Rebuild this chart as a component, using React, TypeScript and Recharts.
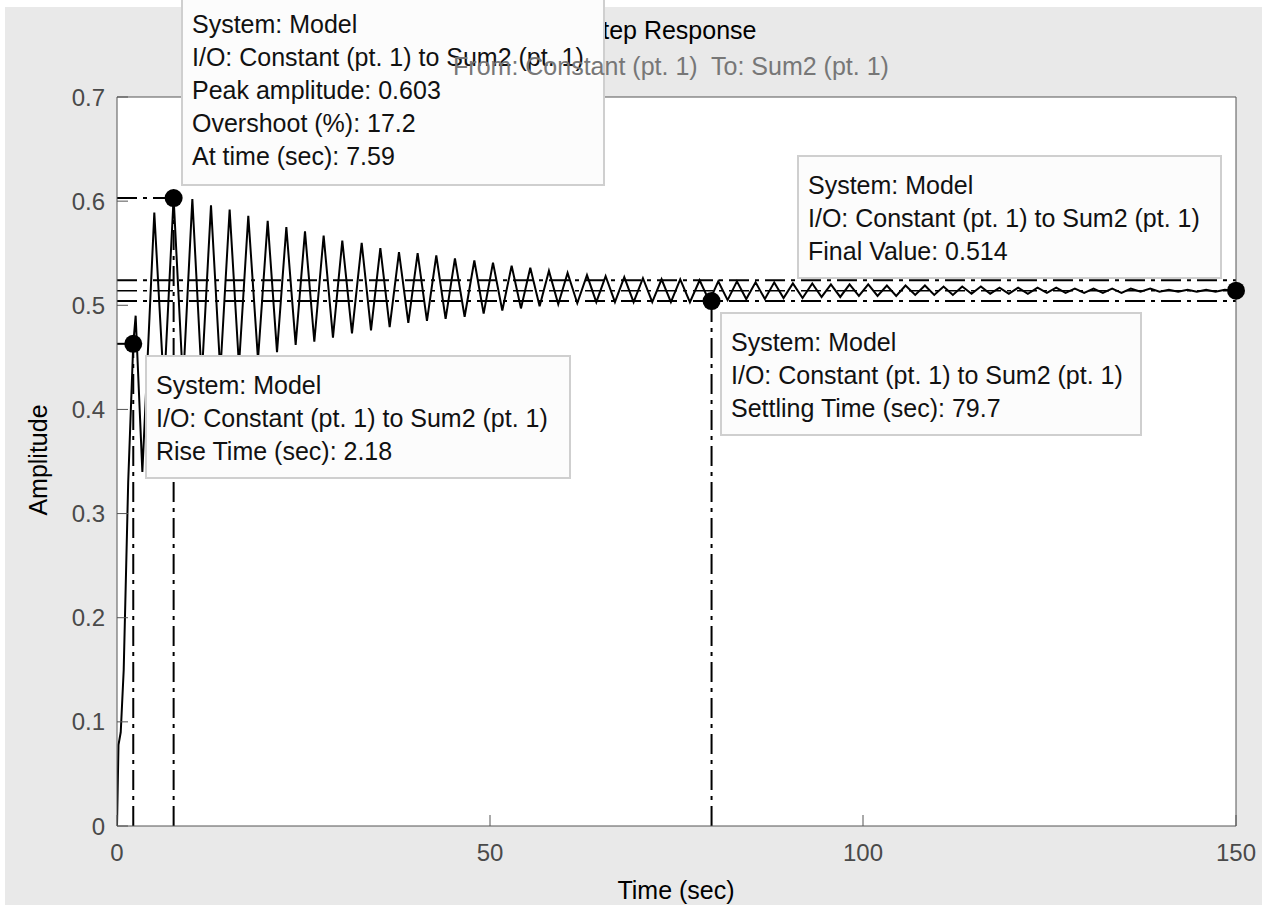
import { LineChart, Line, XAxis, YAxis, CartesianGrid, ReferenceLine, ReferenceDot } from "recharts"

// step response: start of the rise, then peaks and troughs
const startTimes = [0, 0.2, 0.5, 0.9, 1.5, 2.18, 2.5, 3.4]
const startValues = [0, 0.078, 0.09, 0.15, 0.33, 0.463, 0.49, 0.34]

const peakTimes = [
  5.0, 7.59, 10.1, 12.6, 15.1, 17.6, 20.2, 22.7, 25.2, 27.7, 30.2, 32.8, 35.3, 37.8, 40.3, 42.8, 45.3, 47.9, 50.4,
  52.9, 55.4, 57.9, 60.4, 63.0, 65.5, 68.0, 70.5, 73.0, 75.5, 78.1, 80.6, 83.1, 85.6, 88.1, 90.6, 93.2, 95.7, 98.2,
  100.7, 103.2, 105.7, 108.3, 110.8, 113.3, 115.8, 118.3, 120.8, 123.4, 125.9, 128.4, 130.9, 133.4, 135.9, 138.5,
  141.0, 143.5, 146.0, 148.5,
]
const peakValues = [
  0.589, 0.603, 0.602, 0.596, 0.592, 0.586, 0.581, 0.575, 0.571, 0.567, 0.562, 0.56, 0.555, 0.551, 0.55, 0.548,
  0.545, 0.543, 0.541, 0.538, 0.536, 0.533, 0.531, 0.529, 0.528, 0.527, 0.526, 0.525, 0.525, 0.524, 0.523, 0.523,
  0.522, 0.522, 0.521, 0.521, 0.52, 0.52, 0.52, 0.519, 0.519, 0.519, 0.518, 0.518, 0.518, 0.517, 0.517, 0.517,
  0.517, 0.516, 0.516, 0.516, 0.516, 0.516, 0.515, 0.515, 0.515, 0.515,
]
const troughTimes = [
  6.3, 8.85, 11.35, 13.85, 16.35, 18.9, 21.45, 23.95, 26.45, 28.95, 31.5, 34.05, 36.55, 39.05, 41.55, 44.05, 46.6,
  49.15, 51.65, 54.15, 56.65, 59.15, 61.7, 64.25, 66.75, 69.25, 71.75, 74.25, 76.8, 79.4, 81.85, 84.35, 86.85,
  89.35, 91.9, 94.45, 96.95, 99.45, 101.95, 104.45, 107.0, 109.55, 112.05, 114.55, 117.05, 119.55, 122.1, 124.65,
  127.15, 129.65, 132.15, 134.65, 137.2, 139.75, 142.25, 144.75, 147.25,
]
const troughValues = [
  0.42, 0.425, 0.43, 0.436, 0.442, 0.448, 0.455, 0.462, 0.465, 0.469, 0.473, 0.476, 0.479, 0.483, 0.485, 0.487,
  0.489, 0.492, 0.495, 0.497, 0.499, 0.501, 0.502, 0.503, 0.503, 0.503, 0.503, 0.503, 0.503, 0.504, 0.505, 0.506,
  0.506, 0.507, 0.507, 0.508, 0.508, 0.509, 0.509, 0.509, 0.51, 0.51, 0.51, 0.511, 0.511, 0.511, 0.511, 0.512,
  0.512, 0.512, 0.512, 0.512, 0.513, 0.513, 0.513, 0.513, 0.513,
]
const endTime = 150
const endValue = 0.514

// characteristics shown by the data tips
const riseTime = 2.18
const riseLevel = 0.463
const peakTime = 7.59
const peakAmplitude = 0.603
const settlingTime = 79.7
const settlingLevel = 0.504
const finalValue = 0.514
const bandHigh = 0.524
const bandLow = 0.504

const xTicks = [0, 50, 100, 150]
const yTicks = [0, 0.1, 0.2, 0.3, 0.4, 0.5, 0.6, 0.7]

const data = [
  ...startTimes.map((t, i) => ({ t, amp: startValues[i] })),
  ...peakTimes.map((t, i) => ({ t, amp: peakValues[i] })),
  ...troughTimes.map((t, i) => ({ t, amp: troughValues[i] })),
  { t: endTime, amp: endValue },
].sort((a, b) => a.t - b.t)

const font = "'Liberation Sans', Arial, sans-serif"
const frame = "#555"
const dashDot = "20 6 4 6"

const boxStyle: React.CSSProperties = {
  position: "absolute",
  background: "#fcfcfc",
  border: "2px solid #cfcfcf",
  boxSizing: "border-box",
  fontFamily: font,
  fontSize: 25,
  lineHeight: "33px",
  color: "#111",
  whiteSpace: "nowrap",
}

function DataTip({ left, top, width, height, lines }: { left: number; top: number; width: number; height: number; lines: string[] }) {
  return (
    <div style={{ ...boxStyle, left, top, width, height, padding: "12px 9px" }}>
      {lines.map((l) => (
        <div key={l}>{l}</div>
      ))}
    </div>
  )
}

export default function App() {
  const tickStyle = { fontSize: 24, fill: "#4a4a4a", fontFamily: font }
  return (
    <div style={{ position: "absolute", left: 0, top: 0, width: 1267, height: 911, background: "#fff" }}>
      <div style={{ position: "absolute", left: 5, top: 7, width: 1257, height: 898, background: "#e9e9e9" }} />
      <div style={{ position: "absolute", left: 0, top: 0 }}>
        <LineChart width={1267} height={911} data={data} margin={{ top: 96, right: 30, bottom: 45, left: 17 }}>
          <CartesianGrid horizontal={false} vertical={false} fill="#fff" />
          <XAxis
            dataKey="t"
            type="number"
            domain={[0, 150]}
            ticks={xTicks}
            height={40}
            tickSize={-11}
            tickMargin={29}
            stroke={frame}
            tick={tickStyle}
            allowDataOverflow
          />
          <XAxis
            xAxisId="top"
            orientation="top"
            type="number"
            domain={[0, 150]}
            ticks={xTicks}
            height={1}
            tickSize={-11}
            tick={false}
            stroke={frame}
            allowDataOverflow
          />
          <YAxis
            type="number"
            domain={[0, 0.7]}
            ticks={yTicks}
            width={100}
            tickSize={-11}
            tickMargin={23}
            stroke={frame}
            tick={tickStyle}
            allowDataOverflow
          />
          <YAxis
            yAxisId="right"
            orientation="right"
            type="number"
            domain={[0, 0.7]}
            ticks={yTicks}
            width={1}
            tickSize={-11}
            tick={false}
            stroke={frame}
            allowDataOverflow
          />
          <ReferenceLine y={bandHigh} stroke="#000" strokeWidth={2} strokeDasharray={dashDot} />
          <ReferenceLine y={bandLow} stroke="#000" strokeWidth={2} strokeDasharray={dashDot} />
          <ReferenceLine y={finalValue} stroke="#000" strokeWidth={1.5} strokeDasharray={dashDot} />
          <ReferenceLine segment={[{ x: 0, y: peakAmplitude }, { x: peakTime, y: peakAmplitude }]} stroke="#000" strokeWidth={2} strokeDasharray={dashDot} />
          <ReferenceLine segment={[{ x: peakTime, y: 0 }, { x: peakTime, y: peakAmplitude }]} stroke="#000" strokeWidth={2} strokeDasharray={dashDot} />
          <ReferenceLine segment={[{ x: 0, y: riseLevel }, { x: riseTime, y: riseLevel }]} stroke="#000" strokeWidth={2} strokeDasharray={dashDot} />
          <ReferenceLine segment={[{ x: riseTime, y: 0 }, { x: riseTime, y: riseLevel }]} stroke="#000" strokeWidth={2} strokeDasharray={dashDot} />
          <ReferenceLine segment={[{ x: settlingTime, y: 0 }, { x: settlingTime, y: settlingLevel }]} stroke="#000" strokeWidth={2} strokeDasharray={dashDot} />
          <Line dataKey="amp" type="linear" stroke="#000" strokeWidth={2} dot={false} isAnimationActive={false} />
          <ReferenceDot x={peakTime} y={peakAmplitude} r={9} fill="#000" stroke="none" />
          <ReferenceDot x={riseTime} y={riseLevel} r={9} fill="#000" stroke="none" />
          <ReferenceDot x={settlingTime} y={settlingLevel} r={9} fill="#000" stroke="none" />
          <ReferenceDot x={endTime} y={finalValue} r={9} fill="#000" stroke="none" />
        </LineChart>
      </div>

      <div style={{ position: "absolute", left: 671, top: 15, transform: "translateX(-50%)", fontFamily: font, fontSize: 25, lineHeight: "30px", color: "#000", whiteSpace: "nowrap" }}>
        Step Response
      </div>
      <div style={{ position: "absolute", left: 676, top: 875, transform: "translateX(-50%)", fontFamily: font, fontSize: 25, lineHeight: "30px", color: "#000", whiteSpace: "nowrap" }}>
        Time (sec)
      </div>
      <div style={{ position: "absolute", left: 38, top: 460, transform: "translate(-50%, -50%) rotate(-90deg)", fontFamily: font, fontSize: 25, lineHeight: "30px", color: "#000", whiteSpace: "nowrap" }}>
        Amplitude
      </div>

      <DataTip
        left={181}
        top={-6}
        width={424}
        height={192}
        lines={["System: Model", "I/O: Constant (pt. 1) to Sum2 (pt. 1)", "Peak amplitude: 0.603", "Overshoot (%): 17.2", "At time (sec): 7.59"]}
      />
      <DataTip left={145} top={355} width={426} height={124} lines={["System: Model", "I/O: Constant (pt. 1) to Sum2 (pt. 1)", "Rise Time (sec): 2.18"]} />
      <DataTip left={797} top={155} width={425} height={124} lines={["System: Model", "I/O: Constant (pt. 1) to Sum2 (pt. 1)", "Final Value: 0.514"]} />
      <DataTip left={720} top={312} width={422} height={124} lines={["System: Model", "I/O: Constant (pt. 1) to Sum2 (pt. 1)", "Settling Time (sec): 79.7"]} />

      <div style={{ position: "absolute", left: 671, top: 51, transform: "translateX(-50%)", fontFamily: font, fontSize: 25, lineHeight: "30px", color: "#777", whiteSpace: "pre" }}>
        {"From: Constant (pt. 1)  To: Sum2 (pt. 1)"}
      </div>
    </div>
  )
}
